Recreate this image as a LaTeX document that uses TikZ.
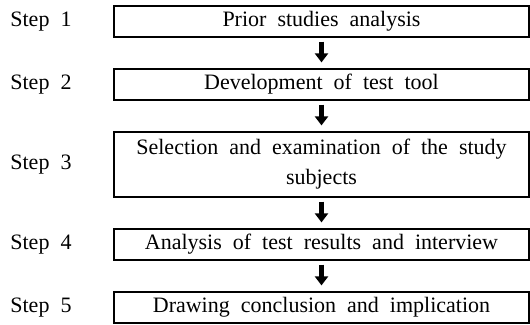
\documentclass[tikz,border=0pt]{standalone}
\usepackage{fontspec}
\setmainfont{Liberation Serif}[WordSpace=2]
\usepackage{tikz}
\usetikzlibrary{arrows.meta, positioning}

\begin{document}
\begin{tikzpicture}[x=0.5pt, y=-0.5pt,
    every node/.style={font=\fontsize{11}{15}\selectfont},
    stepbox/.style={draw, line width=0.6pt, minimum width=207.5pt, inner sep=0pt, align=center},
    steplabel/.style={anchor=west, inner sep=0pt},
    flow/.style={-{Triangle[width=6.5pt, length=4.5pt]}, line width=2.4pt, shorten <=2pt, shorten >=3pt}]
    \useasboundingbox (0, 0) rectangle (530, 325);

    % Step 1
    \node[steplabel] (l1) at (10, 21.5) {Step 1};
    \node[stepbox, minimum height=15.5pt] (b1) at (321.5, 21.5) {Prior studies analysis};

    % Step 2
    \node[steplabel] (l2) at (10, 84.5) {Step 2};
    \node[stepbox, minimum height=15.5pt] (b2) at (321.5, 84.5) {Development of test tool};

    % Step 3
    \node[steplabel] (l3) at (10, 164.5) {Step 3};
    \node[stepbox, minimum height=32.5pt] (b3) at (321.5, 164.5) {Selection and examination of the study\\subjects};

    % Step 4
    \node[steplabel] (l4) at (10, 244.5) {Step 4};
    \node[stepbox, minimum height=15.5pt] (b4) at (321.5, 244.5) {Analysis of test results and interview};

    % Step 5
    \node[steplabel] (l5) at (10, 307.5) {Step 5};
    \node[stepbox, minimum height=15.5pt] (b5) at (321.5, 307.5) {Drawing conclusion and implication};

    % arrows
    \draw[flow] (b1) -- (b2);
    \draw[flow] (b2) -- (b3);
    \draw[flow] (b3) -- (b4);
    \draw[flow] (b4) -- (b5);
\end{tikzpicture}
\end{document}
